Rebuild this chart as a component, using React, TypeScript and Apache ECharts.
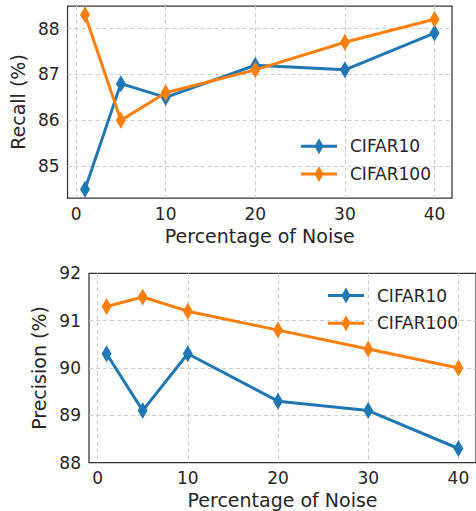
import React, { useEffect, useRef } from "react";
import * as echarts from "echarts";

const noise = [1, 5, 10, 20, 30, 40];
const recallC10 = [84.5, 86.8, 86.5, 87.2, 87.1, 87.9];
const recallC100 = [88.3, 86.0, 86.6, 87.1, 87.7, 88.2];
const precC10 = [90.3, 89.1, 90.3, 89.3, 89.1, 88.3];
const precC100 = [91.3, 91.5, 91.2, 90.8, 90.4, 90.0];
const xTicks = [0, 10, 20, 30, 40];
const recallTicks = [85, 86, 87, 88];
const precTicks = [88, 89, 90, 91, 92];
const precGridTicks = [89, 90, 91];
const seriesNames = ["CIFAR10", "CIFAR100"];

const BLUE = "#1f77b4";
const ORANGE = "#ff7f0e";
const TXT = "#262626";
const FONT = "DejaVu Sans";
const ICON = "path://M0,6.5H36V9.5H0Z M18,0L22.5,8L18,16L13.5,8Z";

export default function App() {
  const ref = useRef<HTMLDivElement>(null);
  useEffect(() => {
    const chart = echarts.init(ref.current!, null, { renderer: "svg" });
    const pairs = (ys: number[]) => noise.map((x, i) => [x, ys[i]]);
    const xAxisBase = (gi: number) => ({
      type: "value",
      gridIndex: gi,
      min: -0.95,
      max: 41.95,
      name: "Percentage of Noise",
      nameLocation: "middle",
      nameGap: 28,
      nameTextStyle: { fontSize: 19, color: TXT, fontFamily: FONT },
      axisLine: { show: false },
      axisTick: { show: false, customValues: xTicks },
      axisLabel: { customValues: xTicks, fontSize: 17, color: TXT, fontFamily: FONT, margin: 7 },
      splitLine: { show: true, lineStyle: { color: "#cccccc", type: [4, 3], width: 1 } },
    });
    const yAxisBase = (gi: number, name: string, min: number, max: number, labels: number[], grids: number[]) => ({
      type: "value",
      gridIndex: gi,
      min,
      max,
      name,
      nameLocation: "middle",
      nameGap: 35,
      nameTextStyle: { fontSize: 19, color: TXT, fontFamily: FONT },
      axisLine: { show: false },
      axisTick: { show: false, customValues: grids },
      axisLabel: { customValues: labels, fontSize: 17, color: TXT, fontFamily: FONT, margin: 8 },
      splitLine: { show: true, lineStyle: { color: "#cccccc", type: [4, 3], width: 1 } },
    });
    const mk = (name: string, color: string, gi: number, ys: number[], z: number) => ({
      type: "line",
      name,
      xAxisIndex: gi,
      yAxisIndex: gi,
      data: pairs(ys),
      symbol: "diamond",
      symbolSize: [10, 17],
      lineStyle: { color, width: 3 },
      itemStyle: { color, borderWidth: 0 },
      z,
    });
    const legendBase = (left: number, top: number) => ({
      data: seriesNames.map((n) => ({ name: n, icon: ICON })),
      orient: "vertical",
      left,
      top,
      padding: 0,
      itemWidth: 36,
      itemHeight: 16,
      itemGap: 10.7,
      selectedMode: false,
      textStyle: { fontSize: 17, color: TXT, fontFamily: FONT, padding: [0, 0, 0, 8] },
    });
    chart.setOption({
      animation: false,
      backgroundColor: "#ffffff",
      textStyle: { fontFamily: FONT },
      grid: [
        { left: 62, top: 6, width: 390, height: 192, show: true, borderColor: "#333333", borderWidth: 1.25, backgroundColor: "transparent" },
        { left: 89, top: 273.3, width: 390, height: 189.4, show: true, borderColor: "#333333", borderWidth: 1.25, backgroundColor: "transparent" },
      ],
      xAxis: [xAxisBase(0), xAxisBase(1)],
      yAxis: [
        yAxisBase(0, "Recall (%)", 84.31, 88.49, recallTicks, recallTicks),
        yAxisBase(1, "Precision (%)", 88, 92, precTicks, precGridTicks),
      ],
      legend: [legendBase(301, 137.7), legendBase(328, 287)],
      series: [
        mk(seriesNames[0], BLUE, 0, recallC10, 2),
        mk(seriesNames[1], ORANGE, 0, recallC100, 3),
        mk(seriesNames[0], BLUE, 1, precC10, 2),
        mk(seriesNames[1], ORANGE, 1, precC100, 3),
      ],
    });
    return () => chart.dispose();
  }, []);
  return (
    <div
      ref={ref}
      style={{ position: "fixed", left: 0, top: 0, width: 476, height: 511 }}
    />
  );
}
